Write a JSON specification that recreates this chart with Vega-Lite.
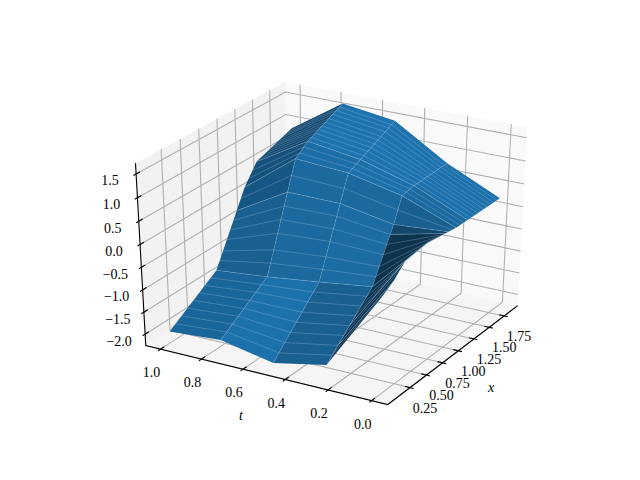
{"$schema":"https://vega.github.io/schema/vega-lite/v6.json","width":640,"height":480,"padding":0,"autosize":{"type":"none"},"background":"white","config":{"view":{"stroke":null}},
"data":{"values":[
{"k":"p1","o":0,"x":-0.081,"t":1.073,"z":-2.26},{"k":"p1","o":1,"x":1.981,"t":1.073,"z":-2.26},{"k":"p1","o":2,"x":1.981,"t":1.073,"z":1.725},{"k":"p1","o":3,"x":-0.081,"t":1.073,"z":1.725},
{"k":"p2","o":0,"x":1.981,"t":1.073,"z":-2.26},{"k":"p2","o":1,"x":1.981,"t":-0.073,"z":-2.26},{"k":"p2","o":2,"x":1.981,"t":-0.073,"z":1.725},{"k":"p2","o":3,"x":1.981,"t":1.073,"z":1.725},
{"k":"p3","o":0,"x":-0.081,"t":-0.073,"z":-2.26},{"k":"p3","o":1,"x":1.981,"t":-0.073,"z":-2.26},{"k":"p3","o":2,"x":1.981,"t":1.073,"z":-2.26},{"k":"p3","o":3,"x":-0.081,"t":1.073,"z":-2.26},
{"k":"g","g":"x1","o":0,"x":0.25,"t":-0.073,"z":-2.26},{"k":"g","g":"x1","o":1,"x":0.25,"t":1.073,"z":-2.26},{"k":"g","g":"x1","o":2,"x":0.25,"t":1.073,"z":1.725},
{"k":"g","g":"x2","o":0,"x":0.5,"t":-0.073,"z":-2.26},{"k":"g","g":"x2","o":1,"x":0.5,"t":1.073,"z":-2.26},{"k":"g","g":"x2","o":2,"x":0.5,"t":1.073,"z":1.725},
{"k":"g","g":"x3","o":0,"x":0.75,"t":-0.073,"z":-2.26},{"k":"g","g":"x3","o":1,"x":0.75,"t":1.073,"z":-2.26},{"k":"g","g":"x3","o":2,"x":0.75,"t":1.073,"z":1.725},
{"k":"g","g":"x4","o":0,"x":1.0,"t":-0.073,"z":-2.26},{"k":"g","g":"x4","o":1,"x":1.0,"t":1.073,"z":-2.26},{"k":"g","g":"x4","o":2,"x":1.0,"t":1.073,"z":1.725},
{"k":"g","g":"x5","o":0,"x":1.25,"t":-0.073,"z":-2.26},{"k":"g","g":"x5","o":1,"x":1.25,"t":1.073,"z":-2.26},{"k":"g","g":"x5","o":2,"x":1.25,"t":1.073,"z":1.725},
{"k":"g","g":"x6","o":0,"x":1.5,"t":-0.073,"z":-2.26},{"k":"g","g":"x6","o":1,"x":1.5,"t":1.073,"z":-2.26},{"k":"g","g":"x6","o":2,"x":1.5,"t":1.073,"z":1.725},
{"k":"g","g":"x7","o":0,"x":1.75,"t":-0.073,"z":-2.26},{"k":"g","g":"x7","o":1,"x":1.75,"t":1.073,"z":-2.26},{"k":"g","g":"x7","o":2,"x":1.75,"t":1.073,"z":1.725},
{"k":"g","g":"t0","o":0,"x":-0.081,"t":0,"z":-2.26},{"k":"g","g":"t0","o":1,"x":1.981,"t":0,"z":-2.26},{"k":"g","g":"t0","o":2,"x":1.981,"t":0,"z":1.725},
{"k":"g","g":"t2","o":0,"x":-0.081,"t":0.2,"z":-2.26},{"k":"g","g":"t2","o":1,"x":1.981,"t":0.2,"z":-2.26},{"k":"g","g":"t2","o":2,"x":1.981,"t":0.2,"z":1.725},
{"k":"g","g":"t4","o":0,"x":-0.081,"t":0.4,"z":-2.26},{"k":"g","g":"t4","o":1,"x":1.981,"t":0.4,"z":-2.26},{"k":"g","g":"t4","o":2,"x":1.981,"t":0.4,"z":1.725},
{"k":"g","g":"t6","o":0,"x":-0.081,"t":0.6,"z":-2.26},{"k":"g","g":"t6","o":1,"x":1.981,"t":0.6,"z":-2.26},{"k":"g","g":"t6","o":2,"x":1.981,"t":0.6,"z":1.725},
{"k":"g","g":"t8","o":0,"x":-0.081,"t":0.8,"z":-2.26},{"k":"g","g":"t8","o":1,"x":1.981,"t":0.8,"z":-2.26},{"k":"g","g":"t8","o":2,"x":1.981,"t":0.8,"z":1.725},
{"k":"g","g":"t10","o":0,"x":-0.081,"t":1,"z":-2.26},{"k":"g","g":"t10","o":1,"x":1.981,"t":1,"z":-2.26},{"k":"g","g":"t10","o":2,"x":1.981,"t":1,"z":1.725},
{"k":"g","g":"z1","o":0,"x":-0.081,"t":1.073,"z":-2},{"k":"g","g":"z1","o":1,"x":1.981,"t":1.073,"z":-2},{"k":"g","g":"z1","o":2,"x":1.981,"t":-0.073,"z":-2},
{"k":"g","g":"z2","o":0,"x":-0.081,"t":1.073,"z":-1.5},{"k":"g","g":"z2","o":1,"x":1.981,"t":1.073,"z":-1.5},{"k":"g","g":"z2","o":2,"x":1.981,"t":-0.073,"z":-1.5},
{"k":"g","g":"z3","o":0,"x":-0.081,"t":1.073,"z":-1},{"k":"g","g":"z3","o":1,"x":1.981,"t":1.073,"z":-1},{"k":"g","g":"z3","o":2,"x":1.981,"t":-0.073,"z":-1},
{"k":"g","g":"z4","o":0,"x":-0.081,"t":1.073,"z":-0.5},{"k":"g","g":"z4","o":1,"x":1.981,"t":1.073,"z":-0.5},{"k":"g","g":"z4","o":2,"x":1.981,"t":-0.073,"z":-0.5},
{"k":"g","g":"z5","o":0,"x":-0.081,"t":1.073,"z":0},{"k":"g","g":"z5","o":1,"x":1.981,"t":1.073,"z":0},{"k":"g","g":"z5","o":2,"x":1.981,"t":-0.073,"z":0},
{"k":"g","g":"z6","o":0,"x":-0.081,"t":1.073,"z":0.5},{"k":"g","g":"z6","o":1,"x":1.981,"t":1.073,"z":0.5},{"k":"g","g":"z6","o":2,"x":1.981,"t":-0.073,"z":0.5},
{"k":"g","g":"z7","o":0,"x":-0.081,"t":1.073,"z":1},{"k":"g","g":"z7","o":1,"x":1.981,"t":1.073,"z":1},{"k":"g","g":"z7","o":2,"x":1.981,"t":-0.073,"z":1},
{"k":"g","g":"z8","o":0,"x":-0.081,"t":1.073,"z":1.5},{"k":"g","g":"z8","o":1,"x":1.981,"t":1.073,"z":1.5},{"k":"g","g":"z8","o":2,"x":1.981,"t":-0.073,"z":1.5},
{"k":"a","g":"axes","o":0,"x":1.981,"t":-0.073,"z":-2.26},{"k":"a","g":"axes","o":1,"x":-0.081,"t":-0.073,"z":-2.26},{"k":"a","g":"axes","o":2,"x":-0.081,"t":1.073,"z":-2.26},{"k":"a","g":"axes","o":3,"x":-0.081,"t":1.073,"z":1.725},
{"k":"a","g":"x1","o":0,"x":0.25,"t":-0.09,"z":-2.26},{"k":"a","g":"x1","o":1,"x":0.25,"t":-0.05,"z":-2.26},
{"k":"a","g":"x2","o":0,"x":0.5,"t":-0.09,"z":-2.26},{"k":"a","g":"x2","o":1,"x":0.5,"t":-0.05,"z":-2.26},
{"k":"a","g":"x3","o":0,"x":0.75,"t":-0.09,"z":-2.26},{"k":"a","g":"x3","o":1,"x":0.75,"t":-0.05,"z":-2.26},
{"k":"a","g":"x4","o":0,"x":1.0,"t":-0.09,"z":-2.26},{"k":"a","g":"x4","o":1,"x":1.0,"t":-0.05,"z":-2.26},
{"k":"a","g":"x5","o":0,"x":1.25,"t":-0.09,"z":-2.26},{"k":"a","g":"x5","o":1,"x":1.25,"t":-0.05,"z":-2.26},
{"k":"a","g":"x6","o":0,"x":1.5,"t":-0.09,"z":-2.26},{"k":"a","g":"x6","o":1,"x":1.5,"t":-0.05,"z":-2.26},
{"k":"a","g":"x7","o":0,"x":1.75,"t":-0.09,"z":-2.26},{"k":"a","g":"x7","o":1,"x":1.75,"t":-0.05,"z":-2.26},
{"k":"a","g":"t0","o":0,"x":-0.115,"t":0,"z":-2.26},{"k":"a","g":"t0","o":1,"x":-0.03,"t":0,"z":-2.26},
{"k":"a","g":"t2","o":0,"x":-0.115,"t":0.2,"z":-2.26},{"k":"a","g":"t2","o":1,"x":-0.03,"t":0.2,"z":-2.26},
{"k":"a","g":"t4","o":0,"x":-0.115,"t":0.4,"z":-2.26},{"k":"a","g":"t4","o":1,"x":-0.03,"t":0.4,"z":-2.26},
{"k":"a","g":"t6","o":0,"x":-0.115,"t":0.6,"z":-2.26},{"k":"a","g":"t6","o":1,"x":-0.03,"t":0.6,"z":-2.26},
{"k":"a","g":"t8","o":0,"x":-0.115,"t":0.8,"z":-2.26},{"k":"a","g":"t8","o":1,"x":-0.03,"t":0.8,"z":-2.26},
{"k":"a","g":"t10","o":0,"x":-0.115,"t":1,"z":-2.26},{"k":"a","g":"t10","o":1,"x":-0.03,"t":1,"z":-2.26},
{"k":"a","g":"z1","o":0,"x":-0.115,"t":1.073,"z":-2},{"k":"a","g":"z1","o":1,"x":-0.03,"t":1.073,"z":-2},
{"k":"a","g":"z2","o":0,"x":-0.115,"t":1.073,"z":-1.5},{"k":"a","g":"z2","o":1,"x":-0.03,"t":1.073,"z":-1.5},
{"k":"a","g":"z3","o":0,"x":-0.115,"t":1.073,"z":-1},{"k":"a","g":"z3","o":1,"x":-0.03,"t":1.073,"z":-1},
{"k":"a","g":"z4","o":0,"x":-0.115,"t":1.073,"z":-0.5},{"k":"a","g":"z4","o":1,"x":-0.03,"t":1.073,"z":-0.5},
{"k":"a","g":"z5","o":0,"x":-0.115,"t":1.073,"z":0},{"k":"a","g":"z5","o":1,"x":-0.03,"t":1.073,"z":0},
{"k":"a","g":"z6","o":0,"x":-0.115,"t":1.073,"z":0.5},{"k":"a","g":"z6","o":1,"x":-0.03,"t":1.073,"z":0.5},
{"k":"a","g":"z7","o":0,"x":-0.115,"t":1.073,"z":1},{"k":"a","g":"z7","o":1,"x":-0.03,"t":1.073,"z":1},
{"k":"a","g":"z8","o":0,"x":-0.115,"t":1.073,"z":1.5},{"k":"a","g":"z8","o":1,"x":-0.03,"t":1.073,"z":1.5},
{"k":"lx","label":"0.25","x":0.25,"t":-0.073,"z":-2.26},{"k":"lx","label":"0.50","x":0.5,"t":-0.073,"z":-2.26},{"k":"lx","label":"0.75","x":0.75,"t":-0.073,"z":-2.26},{"k":"lx","label":"1.00","x":1.0,"t":-0.073,"z":-2.26},{"k":"lx","label":"1.25","x":1.25,"t":-0.073,"z":-2.26},{"k":"lx","label":"1.50","x":1.5,"t":-0.073,"z":-2.26},{"k":"lx","label":"1.75","x":1.75,"t":-0.073,"z":-2.26},
{"k":"lt","label":"0.0","x":-0.081,"t":0,"z":-2.26},{"k":"lt","label":"0.2","x":-0.081,"t":0.2,"z":-2.26},{"k":"lt","label":"0.4","x":-0.081,"t":0.4,"z":-2.26},{"k":"lt","label":"0.6","x":-0.081,"t":0.6,"z":-2.26},{"k":"lt","label":"0.8","x":-0.081,"t":0.8,"z":-2.26},{"k":"lt","label":"1.0","x":-0.081,"t":1,"z":-2.26},
{"k":"lz","label":"−2.0","x":-0.081,"t":1.073,"z":-2},{"k":"lz","label":"−1.5","x":-0.081,"t":1.073,"z":-1.5},{"k":"lz","label":"−1.0","x":-0.081,"t":1.073,"z":-1},{"k":"lz","label":"−0.5","x":-0.081,"t":1.073,"z":-0.5},{"k":"lz","label":"0.0","x":-0.081,"t":1.073,"z":0},{"k":"lz","label":"0.5","x":-0.081,"t":1.073,"z":0.5},{"k":"lz","label":"1.0","x":-0.081,"t":1.073,"z":1},{"k":"lz","label":"1.5","x":-0.081,"t":1.073,"z":1.5},
{"k":"tt","label":"t","x":-0.081,"t":0.5,"z":-2.26},{"k":"tx","label":"x","x":0.95,"t":-0.073,"z":-2.26},
{"k":"q","g":"a1E","s":0.6,"o":0,"x":1.33,"t":1,"z":0.58},{"k":"q","g":"a1E","s":0.6,"o":1,"x":1.85,"t":1,"z":0.87},{"k":"q","g":"a1E","s":0.6,"o":2,"x":1.85,"t":0.75,"z":1.63},{"k":"q","g":"a1E","s":0.6,"o":3,"x":1.33,"t":0.75,"z":1.25},
{"k":"q","g":"a1D","s":0.68,"o":0,"x":1.15,"t":1,"z":0.17},{"k":"q","g":"a1D","s":0.68,"o":1,"x":1.33,"t":1,"z":0.58},{"k":"q","g":"a1D","s":0.68,"o":2,"x":1.33,"t":0.75,"z":1.25},{"k":"q","g":"a1D","s":0.68,"o":3,"x":1.15,"t":0.75,"z":1.03},
{"k":"q","g":"a1C","s":0.72,"o":0,"x":1.03,"t":1,"z":-0.24},{"k":"q","g":"a1C","s":0.72,"o":1,"x":1.15,"t":1,"z":0.17},{"k":"q","g":"a1C","s":0.72,"o":2,"x":1.15,"t":0.75,"z":1.03},{"k":"q","g":"a1C","s":0.72,"o":3,"x":1.03,"t":0.75,"z":0.41},
{"k":"q","g":"a1B","s":0.8,"o":0,"x":0.72,"t":1,"z":-1.29},{"k":"q","g":"a1B","s":0.8,"o":1,"x":1.03,"t":1,"z":-0.24},{"k":"q","g":"a1B","s":0.8,"o":2,"x":1.03,"t":0.75,"z":0.41},{"k":"q","g":"a1B","s":0.8,"o":3,"x":0.72,"t":0.75,"z":-1.18},
{"k":"q","g":"a1A","s":0.85,"o":0,"x":0.05,"t":1,"z":-2.0},{"k":"q","g":"a1A","s":0.85,"o":1,"x":0.72,"t":1,"z":-1.29},{"k":"q","g":"a1A","s":0.85,"o":2,"x":0.72,"t":0.75,"z":-1.18},{"k":"q","g":"a1A","s":0.85,"o":3,"x":0.05,"t":0.75,"z":-1.91},
{"k":"q","g":"a2E","s":0.97,"o":0,"x":1.33,"t":0.75,"z":1.25},{"k":"q","g":"a2E","s":0.97,"o":1,"x":1.85,"t":0.75,"z":1.63},{"k":"q","g":"a2E","s":0.97,"o":2,"x":1.85,"t":0.5,"z":1.47},{"k":"q","g":"a2E","s":0.97,"o":3,"x":1.33,"t":0.5,"z":1.08},
{"k":"q","g":"a2D","s":0.92,"o":0,"x":1.15,"t":0.75,"z":1.03},{"k":"q","g":"a2D","s":0.92,"o":1,"x":1.33,"t":0.75,"z":1.25},{"k":"q","g":"a2D","s":0.92,"o":2,"x":1.33,"t":0.5,"z":1.08},{"k":"q","g":"a2D","s":0.92,"o":3,"x":1.15,"t":0.5,"z":0.95},
{"k":"q","g":"a2C","s":0.88,"o":0,"x":1.03,"t":0.75,"z":0.41},{"k":"q","g":"a2C","s":0.88,"o":1,"x":1.15,"t":0.75,"z":1.03},{"k":"q","g":"a2C","s":0.88,"o":2,"x":1.15,"t":0.5,"z":0.95},{"k":"q","g":"a2C","s":0.88,"o":3,"x":1.03,"t":0.5,"z":0.4},
{"k":"q","g":"a2B","s":0.88,"o":0,"x":0.72,"t":0.75,"z":-1.18},{"k":"q","g":"a2B","s":0.88,"o":1,"x":1.03,"t":0.75,"z":0.41},{"k":"q","g":"a2B","s":0.88,"o":2,"x":1.03,"t":0.5,"z":0.4},{"k":"q","g":"a2B","s":0.88,"o":3,"x":0.72,"t":0.5,"z":-1.03},
{"k":"q","g":"a2A","s":0.95,"o":0,"x":0.05,"t":0.75,"z":-1.91},{"k":"q","g":"a2A","s":0.95,"o":1,"x":0.72,"t":0.75,"z":-1.18},{"k":"q","g":"a2A","s":0.95,"o":2,"x":0.72,"t":0.5,"z":-1.03},{"k":"q","g":"a2A","s":0.95,"o":3,"x":0.05,"t":0.5,"z":-2.15},
{"k":"q","g":"a3E","s":0.97,"o":0,"x":1.33,"t":0.5,"z":1.08},{"k":"q","g":"a3E","s":0.97,"o":1,"x":1.85,"t":0.5,"z":1.47},{"k":"q","g":"a3E","s":0.97,"o":2,"x":1.85,"t":0.25,"z":0.77},{"k":"q","g":"a3E","s":0.97,"o":3,"x":1.33,"t":0.25,"z":0.75},
{"k":"q","g":"a3D","s":0.95,"o":0,"x":1.15,"t":0.5,"z":0.95},{"k":"q","g":"a3D","s":0.95,"o":1,"x":1.33,"t":0.5,"z":1.08},{"k":"q","g":"a3D","s":0.95,"o":2,"x":1.33,"t":0.25,"z":0.75},{"k":"q","g":"a3D","s":0.95,"o":3,"x":1.15,"t":0.25,"z":0.7},
{"k":"q","g":"a3C","s":0.88,"o":0,"x":1.03,"t":0.5,"z":0.4},{"k":"q","g":"a3C","s":0.88,"o":1,"x":1.15,"t":0.5,"z":0.95},{"k":"q","g":"a3C","s":0.88,"o":2,"x":1.15,"t":0.25,"z":0.7},{"k":"q","g":"a3C","s":0.88,"o":3,"x":1.03,"t":0.25,"z":0.19},
{"k":"q","g":"a3B","s":0.9,"o":0,"x":0.72,"t":0.5,"z":-1.03},{"k":"q","g":"a3B","s":0.9,"o":1,"x":1.03,"t":0.5,"z":0.4},{"k":"q","g":"a3B","s":0.9,"o":2,"x":1.03,"t":0.25,"z":0.19},{"k":"q","g":"a3B","s":0.9,"o":3,"x":0.72,"t":0.25,"z":-0.874},
{"k":"q","g":"a3A","s":0.8,"o":0,"x":0.05,"t":0.5,"z":-2.15},{"k":"q","g":"a3A","s":0.8,"o":1,"x":0.72,"t":0.5,"z":-1.03},{"k":"q","g":"a3A","s":0.8,"o":2,"x":0.72,"t":0.25,"z":-0.874},{"k":"q","g":"a3A","s":0.8,"o":3,"x":0.05,"t":0.25,"z":-1.905},
{"k":"q","g":"a4E","s":0.95,"o":0,"x":1.33,"t":0.25,"z":0.75},{"k":"q","g":"a4E","s":0.95,"o":1,"x":1.85,"t":0.25,"z":0.77},{"k":"q","g":"a4E","s":0.95,"o":2,"x":1.85,"t":0,"z":0.24},{"k":"q","g":"a4E","s":0.95,"o":3,"x":1.33,"t":0,"z":0.25},
{"k":"q","g":"a4D","s":0.88,"o":0,"x":1.15,"t":0.25,"z":0.7},{"k":"q","g":"a4D","s":0.88,"o":1,"x":1.33,"t":0.25,"z":0.75},{"k":"q","g":"a4D","s":0.88,"o":2,"x":1.33,"t":0,"z":0.25},{"k":"q","g":"a4D","s":0.88,"o":3,"x":1.15,"t":0,"z":0.25},
{"k":"q","g":"a4C","s":0.8,"o":0,"x":1.03,"t":0.25,"z":0.19},{"k":"q","g":"a4C","s":0.8,"o":1,"x":1.15,"t":0.25,"z":0.7},{"k":"q","g":"a4C","s":0.8,"o":2,"x":1.15,"t":0,"z":0.25},{"k":"q","g":"a4C","s":0.8,"o":3,"x":1.03,"t":0,"z":0.278},
{"k":"q","g":"a4B2","s":0.6,"o":0,"x":0.98,"t":0.25,"z":0.02},{"k":"q","g":"a4B2","s":0.6,"o":1,"x":1.03,"t":0.25,"z":0.19},{"k":"q","g":"a4B2","s":0.6,"o":2,"x":1.03,"t":0,"z":0.278},{"k":"q","g":"a4B2","s":0.6,"o":3,"x":0.98,"t":0,"z":0.29},
{"k":"q","g":"a4B1","s":0.43,"o":0,"x":0.72,"t":0.25,"z":-0.874},{"k":"q","g":"a4B1","s":0.43,"o":1,"x":0.98,"t":0.25,"z":0.02},{"k":"q","g":"a4B1","s":0.43,"o":2,"x":0.98,"t":0,"z":0.29},{"k":"q","g":"a4B1","s":0.43,"o":3,"x":0.72,"t":0,"z":0.35},
{"k":"q","g":"a4A3","s":0.45,"o":0,"x":0.385,"t":0.25,"z":-1.39},{"k":"q","g":"a4A3","s":0.45,"o":1,"x":0.72,"t":0.25,"z":-0.874},{"k":"q","g":"a4A3","s":0.45,"o":2,"x":0.72,"t":0,"z":0.35},{"k":"q","g":"a4A3","s":0.45,"o":3,"x":0.385,"t":0,"z":0.29},
{"k":"q","g":"a4A2","s":0.45,"o":0,"x":0.218,"t":0.25,"z":-1.65},{"k":"q","g":"a4A2","s":0.45,"o":1,"x":0.385,"t":0.25,"z":-1.39},{"k":"q","g":"a4A2","s":0.45,"o":2,"x":0.385,"t":0,"z":0.29},{"k":"q","g":"a4A2","s":0.45,"o":3,"x":0.218,"t":0,"z":0.03},
{"k":"q","g":"a4A1","s":0.45,"o":0,"x":0.05,"t":0.25,"z":-1.905},{"k":"q","g":"a4A1","s":0.45,"o":1,"x":0.218,"t":0.25,"z":-1.65},{"k":"q","g":"a4A1","s":0.45,"o":2,"x":0.218,"t":0,"z":0.03},{"k":"q","g":"a4A1","s":0.45,"o":3,"x":0.05,"t":0,"z":-0.14},
{"k":"m","x":0.05,"t":0.75,"z":-1.91},{"k":"m","x":0.05,"t":0.5,"z":-2.15},{"k":"m","x":0.05,"t":0.25,"z":-1.905},
{"k":"m","x":1.85,"t":0.75,"z":1.63},{"k":"m","x":1.85,"t":0.5,"z":1.47},{"k":"m","x":1.85,"t":0.25,"z":0.77},
{"k":"m","x":0.134,"t":1,"z":-1.91},{"k":"m","x":0.134,"t":0.75,"z":-1.82},{"k":"m","x":0.134,"t":0.5,"z":-2.01},{"k":"m","x":0.134,"t":0.25,"z":-1.78},{"k":"m","x":0.134,"t":0,"z":-0.06},
{"k":"m","x":0.218,"t":1,"z":-1.82},{"k":"m","x":0.218,"t":0.75,"z":-1.73},{"k":"m","x":0.218,"t":0.5,"z":-1.87},{"k":"m","x":0.218,"t":0.25,"z":-1.65},{"k":"m","x":0.218,"t":0,"z":0.03},
{"k":"m","x":0.301,"t":1,"z":-1.73},{"k":"m","x":0.301,"t":0.75,"z":-1.64},{"k":"m","x":0.301,"t":0.5,"z":-1.73},{"k":"m","x":0.301,"t":0.25,"z":-1.52},{"k":"m","x":0.301,"t":0,"z":0.17},
{"k":"m","x":0.385,"t":1,"z":-1.64},{"k":"m","x":0.385,"t":0.75,"z":-1.55},{"k":"m","x":0.385,"t":0.5,"z":-1.59},{"k":"m","x":0.385,"t":0.25,"z":-1.39},{"k":"m","x":0.385,"t":0,"z":0.29},
{"k":"m","x":0.469,"t":1,"z":-1.55},{"k":"m","x":0.469,"t":0.75,"z":-1.46},{"k":"m","x":0.469,"t":0.5,"z":-1.45},{"k":"m","x":0.469,"t":0.25,"z":-1.26},{"k":"m","x":0.469,"t":0,"z":0.31},
{"k":"m","x":0.553,"t":1,"z":-1.47},{"k":"m","x":0.553,"t":0.75,"z":-1.36},{"k":"m","x":0.553,"t":0.5,"z":-1.31},{"k":"m","x":0.553,"t":0.25,"z":-1.13},{"k":"m","x":0.553,"t":0,"z":0.33},
{"k":"m","x":0.636,"t":1,"z":-1.38},{"k":"m","x":0.636,"t":0.75,"z":-1.27},{"k":"m","x":0.636,"t":0.5,"z":-1.17},{"k":"m","x":0.636,"t":0.25,"z":-1.0},{"k":"m","x":0.636,"t":0,"z":0.34},
{"k":"m","x":0.72,"t":1,"z":-1.29},{"k":"m","x":0.72,"t":0.75,"z":-1.18},{"k":"m","x":0.72,"t":0.5,"z":-1.03},{"k":"m","x":0.72,"t":0.25,"z":-0.874},{"k":"m","x":0.72,"t":0,"z":0.35},
{"k":"m","x":0.77,"t":1,"z":-1.12},{"k":"m","x":0.77,"t":0.75,"z":-0.92},{"k":"m","x":0.77,"t":0.5,"z":-0.8},{"k":"m","x":0.77,"t":0.25,"z":-0.7},{"k":"m","x":0.77,"t":0,"z":0.34},
{"k":"m","x":0.82,"t":1,"z":-0.95},{"k":"m","x":0.82,"t":0.75,"z":-0.67},{"k":"m","x":0.82,"t":0.5,"z":-0.57},{"k":"m","x":0.82,"t":0.25,"z":-0.53},{"k":"m","x":0.82,"t":0,"z":0.33},
{"k":"m","x":0.88,"t":1,"z":-0.75},{"k":"m","x":0.88,"t":0.75,"z":-0.36},{"k":"m","x":0.88,"t":0.5,"z":-0.29},{"k":"m","x":0.88,"t":0.25,"z":-0.33},{"k":"m","x":0.88,"t":0,"z":0.32},
{"k":"m","x":0.93,"t":1,"z":-0.58},{"k":"m","x":0.93,"t":0.75,"z":-0.1},{"k":"m","x":0.93,"t":0.5,"z":-0.06},{"k":"m","x":0.93,"t":0.25,"z":-0.15},{"k":"m","x":0.93,"t":0,"z":0.31},
{"k":"m","x":0.98,"t":1,"z":-0.41},{"k":"m","x":0.98,"t":0.75,"z":0.15},{"k":"m","x":0.98,"t":0.5,"z":0.17},{"k":"m","x":0.98,"t":0.25,"z":0.02},{"k":"m","x":0.98,"t":0,"z":0.29},
{"k":"m","x":1.03,"t":1,"z":-0.24},{"k":"m","x":1.03,"t":0.75,"z":0.41},{"k":"m","x":1.03,"t":0.5,"z":0.4},{"k":"m","x":1.03,"t":0.25,"z":0.19},{"k":"m","x":1.03,"t":0,"z":0.278},
{"k":"m","x":1.09,"t":1,"z":-0.03},{"k":"m","x":1.09,"t":0.75,"z":0.72},{"k":"m","x":1.09,"t":0.5,"z":0.67},{"k":"m","x":1.09,"t":0.25,"z":0.445},{"k":"m","x":1.09,"t":0,"z":0.264},
{"k":"m","x":1.15,"t":1,"z":0.17},{"k":"m","x":1.15,"t":0.75,"z":1.03},{"k":"m","x":1.15,"t":0.5,"z":0.95},{"k":"m","x":1.15,"t":0.25,"z":0.7},{"k":"m","x":1.15,"t":0,"z":0.25},
{"k":"m","x":1.21,"t":1,"z":0.31},{"k":"m","x":1.21,"t":0.75,"z":1.1},{"k":"m","x":1.21,"t":0.5,"z":0.99},{"k":"m","x":1.21,"t":0.25,"z":0.72},{"k":"m","x":1.21,"t":0,"z":0.25},
{"k":"m","x":1.27,"t":1,"z":0.44},{"k":"m","x":1.27,"t":0.75,"z":1.18},{"k":"m","x":1.27,"t":0.5,"z":1.04},{"k":"m","x":1.27,"t":0.25,"z":0.73},{"k":"m","x":1.27,"t":0,"z":0.25},
{"k":"m","x":1.33,"t":1,"z":0.58},{"k":"m","x":1.33,"t":0.75,"z":1.25},{"k":"m","x":1.33,"t":0.5,"z":1.08},{"k":"m","x":1.33,"t":0.25,"z":0.75},{"k":"m","x":1.33,"t":0,"z":0.25},
{"k":"m","x":1.38,"t":1,"z":0.61},{"k":"m","x":1.38,"t":0.75,"z":1.29},{"k":"m","x":1.38,"t":0.5,"z":1.12},{"k":"m","x":1.38,"t":0.25,"z":0.75},{"k":"m","x":1.38,"t":0,"z":0.25},
{"k":"m","x":1.44,"t":1,"z":0.64},{"k":"m","x":1.44,"t":0.75,"z":1.33},{"k":"m","x":1.44,"t":0.5,"z":1.16},{"k":"m","x":1.44,"t":0.25,"z":0.75},{"k":"m","x":1.44,"t":0,"z":0.25},
{"k":"m","x":1.49,"t":1,"z":0.67},{"k":"m","x":1.49,"t":0.75,"z":1.37},{"k":"m","x":1.49,"t":0.5,"z":1.2},{"k":"m","x":1.49,"t":0.25,"z":0.76},{"k":"m","x":1.49,"t":0,"z":0.25},
{"k":"m","x":1.54,"t":1,"z":0.7},{"k":"m","x":1.54,"t":0.75,"z":1.4},{"k":"m","x":1.54,"t":0.5,"z":1.24},{"k":"m","x":1.54,"t":0.25,"z":0.76},{"k":"m","x":1.54,"t":0,"z":0.24},
{"k":"m","x":1.59,"t":1,"z":0.72},{"k":"m","x":1.59,"t":0.75,"z":1.44},{"k":"m","x":1.59,"t":0.5,"z":1.28},{"k":"m","x":1.59,"t":0.25,"z":0.76},{"k":"m","x":1.59,"t":0,"z":0.24},
{"k":"m","x":1.64,"t":1,"z":0.75},{"k":"m","x":1.64,"t":0.75,"z":1.48},{"k":"m","x":1.64,"t":0.5,"z":1.31},{"k":"m","x":1.64,"t":0.25,"z":0.76},{"k":"m","x":1.64,"t":0,"z":0.24},
{"k":"m","x":1.7,"t":1,"z":0.79},{"k":"m","x":1.7,"t":0.75,"z":1.52},{"k":"m","x":1.7,"t":0.5,"z":1.36},{"k":"m","x":1.7,"t":0.25,"z":0.77},{"k":"m","x":1.7,"t":0,"z":0.24},
{"k":"m","x":1.75,"t":1,"z":0.81},{"k":"m","x":1.75,"t":0.75,"z":1.56},{"k":"m","x":1.75,"t":0.5,"z":1.4},{"k":"m","x":1.75,"t":0.25,"z":0.77},{"k":"m","x":1.75,"t":0,"z":0.24},
{"k":"m","x":1.8,"t":1,"z":0.84},{"k":"m","x":1.8,"t":0.75,"z":1.59},{"k":"m","x":1.8,"t":0.5,"z":1.43},{"k":"m","x":1.8,"t":0.25,"z":0.77},{"k":"m","x":1.8,"t":0,"z":0.24}
]},
"transform":[
{"calculate":"(datum.x+0.04)/1.98-0.5","as":"a"},
{"calculate":"(datum.t+0.05)/1.1-0.5","as":"b"},
{"calculate":"(datum.z+2.18)/3.825-0.5","as":"c"},
{"calculate":"10+0.75*datum.a+0.4330127*datum.b-0.5*datum.c","as":"depth"},
{"calculate":"(0.5*datum.a-0.8660254*datum.b)/datum.depth","as":"sx"},
{"calculate":"(0.4330127*datum.a+0.25*datum.b+0.8660254*datum.c)/datum.depth","as":"sy"}
],
"encoding":{
"x":{"field":"sx","type":"quantitative","axis":null,"scale":{"domain":[-0.12484,0.11387],"nice":false,"zero":false}},
"y":{"field":"sy","type":"quantitative","axis":null,"scale":{"domain":[-0.12143,0.11883],"nice":false,"zero":false}}
},
"layer":[
{"transform":[{"filter":"datum.k=='p1'"}],"mark":{"type":"line","interpolate":"linear-closed","fill":"#f2f2f2","strokeWidth":0},"encoding":{"order":{"field":"o","type":"quantitative"}}},
{"transform":[{"filter":"datum.k=='p2'"}],"mark":{"type":"line","interpolate":"linear-closed","fill":"#f9f9f9","strokeWidth":0},"encoding":{"order":{"field":"o","type":"quantitative"}}},
{"transform":[{"filter":"datum.k=='p3'"}],"mark":{"type":"line","interpolate":"linear-closed","fill":"#f5f5f5","strokeWidth":0},"encoding":{"order":{"field":"o","type":"quantitative"}}},
{"transform":[{"filter":"datum.k=='g'"}],"mark":{"type":"line","stroke":"#b0b0b0","strokeWidth":1.1},"encoding":{"detail":{"field":"g"},"order":{"field":"o","type":"quantitative"}}},
{"transform":[{"filter":"datum.k=='a'"}],"mark":{"type":"line","stroke":"#000000","strokeWidth":1.1},"encoding":{"detail":{"field":"g"},"order":{"field":"o","type":"quantitative"}}},
{"transform":[{"filter":"datum.k=='lx'"}],"mark":{"type":"text","font":"Liberation Serif","fontSize":14,"align":"center","baseline":"middle","dx":15,"dy":21,"color":"#000000"},"encoding":{"text":{"field":"label"}}},
{"transform":[{"filter":"datum.k=='lt'"}],"mark":{"type":"text","font":"Liberation Serif","fontSize":14,"align":"center","baseline":"middle","dx":-9,"dy":24,"color":"#000000"},"encoding":{"text":{"field":"label"}}},
{"transform":[{"filter":"datum.k=='lz'"}],"mark":{"type":"text","font":"Liberation Serif","fontSize":14,"align":"center","baseline":"middle","dx":-26,"dy":7.5,"color":"#000000"},"encoding":{"text":{"field":"label"}}},
{"transform":[{"filter":"datum.k=='tt'"}],"mark":{"type":"text","font":"Liberation Serif","fontSize":14,"fontStyle":"italic","align":"center","baseline":"middle","dx":-23,"dy":42,"color":"#000000"},"encoding":{"text":{"field":"label"}}},
{"transform":[{"filter":"datum.k=='tx'"}],"mark":{"type":"text","font":"Liberation Serif","fontSize":14,"fontStyle":"italic","align":"center","baseline":"middle","dx":36,"dy":35,"color":"#000000"},"encoding":{"text":{"field":"label"}}},
{"transform":[{"filter":"datum.k=='q'"}],"mark":{"type":"line","interpolate":"linear-closed","strokeWidth":0},"encoding":{"detail":{"field":"g"},"order":{"field":"o","type":"quantitative"},"fill":{"field":"s","type":"quantitative","legend":null,"scale":{"domain":[0,1],"range":["#000000","#1f77b4"],"interpolate":"rgb"}}}},
{"transform":[{"filter":"datum.k=='m' && datum.x>0.06 && datum.x<1.84"}],"mark":{"type":"line","stroke":"#9cc4e4","strokeWidth":0.6,"opacity":0.5},"encoding":{"detail":{"field":"x"},"order":{"field":"t","type":"quantitative"}}},
{"transform":[{"filter":"datum.k=='m' && datum.t>0.1 && datum.t<0.9"}],"mark":{"type":"line","stroke":"#9cc4e4","strokeWidth":0.6,"opacity":0.35},"encoding":{"detail":{"field":"t"},"order":{"field":"x","type":"quantitative"}}}
]}
